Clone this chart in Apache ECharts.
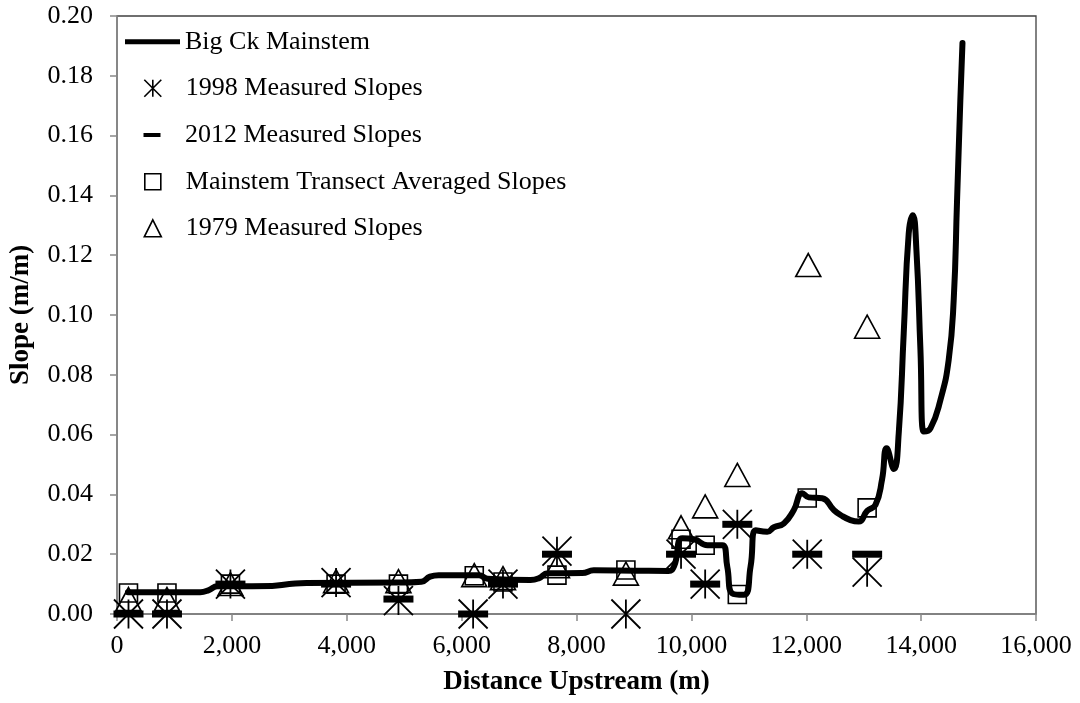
<!DOCTYPE html>
<html>
<head>
<meta charset="utf-8">
<script src="https://cdn.jsdelivr.net/npm/echarts@6/dist/echarts.min.js"></script>
<style>
html,body{margin:0;padding:0;background:#fff;}
#chart{width:1080px;height:703px;}
</style>
</head>
<body>
<div id="chart"></div>
<script>
// ---- data ----
const mainstemX = [190,1450,1600,1750,2000,2700,3000,3300,4900,5300,5450,5600,6300,6450,7200,7350,7500,8100,8300,9000,9600,9700,9843,10045,10280,10540,10625,10710,10915,11030,11120,11320,11437,11610,11784,11930,12045,12278,12480,12597,12770,12915,13060,13205,13320,13400,13525,13610,13697,13784,13855,13918,13988,14045,14162,14336,14480,14567,14625,14683,14720];
const mainstemY = [0.0073,0.0073,0.0080,0.0093,0.0093,0.0094,0.0100,0.0104,0.0105,0.0108,0.0125,0.0130,0.0130,0.0118,0.0114,0.0120,0.0136,0.0137,0.0146,0.0145,0.0144,0.0160,0.0253,0.0250,0.0230,0.0230,0.0158,0.0069,0.0064,0.0158,0.0280,0.0275,0.0290,0.0303,0.0348,0.0404,0.0390,0.0387,0.0348,0.0331,0.0314,0.0309,0.0345,0.0365,0.0450,0.0554,0.0485,0.0604,0.0939,0.1273,0.1334,0.1217,0.0883,0.0610,0.0621,0.0716,0.0850,0.1050,0.1380,0.1720,0.1910];

const m1998X = [200,870,1975,3814,4900,6200,6720,7660,8860,9820,10240,10800,12017,13060];
const m1998Y = [0.000,0.000,0.010,0.0105,0.0045,0.000,0.010,0.021,0.000,0.020,0.010,0.030,0.020,0.014];

const m2012X = [200,870,1975,3814,4900,6200,6720,7660,9820,10240,10800,12017,13060];
const m2012Y = [0.000,0.000,0.010,0.010,0.005,0.000,0.010,0.020,0.020,0.010,0.030,0.020,0.020];

const transectX = [200,870,1975,3814,4900,6220,6720,7660,8860,9820,10240,10800,12017,13060];
const transectY = [0.007,0.007,0.010,0.010,0.010,0.0128,0.0107,0.013,0.0147,0.025,0.023,0.0065,0.0388,0.0355];

const m1979X = [200,870,1975,3814,4900,6220,6720,7660,8860,9820,10240,10800,12035,13060];
const m1979Y = [0.005,0.005,0.010,0.011,0.011,0.013,0.012,0.016,0.0135,0.029,0.036,0.0465,0.1167,0.0961];

const xTickLabels = ['0','2,000','4,000','6,000','8,000','10,000','12,000','14,000','16,000'];
const yTickLabels = ['0.00','0.02','0.04','0.06','0.08','0.10','0.12','0.14','0.16','0.18','0.20'];

const seriesNames = ['Big Ck Mainstem','1998 Measured Slopes','2012 Measured Slopes','Mainstem Transect Averaged Slopes','1979 Measured Slopes'];

// ---- build ----
const zip = (xs, ys) => xs.map((x, i) => [x, ys[i]]);
const FONT = '"Liberation Serif","Times New Roman",serif';
const ASTER = 'path://M0,0L10,10M10,0L0,10M5,0L5,10';
const TRI = 'path://M5,0L10,10L0,10Z';
const SQ = 'path://M0,0L10,0L10,10L0,10Z';
const DASH = 'path://M0,0L17,0L17,4L0,4Z';
const hollow = {color:'rgba(0,0,0,0)', borderColor:'#000', borderWidth:1.6, opacity:1};
const legendText = {fontFamily: FONT, fontSize: 26, color:'#000', lineHeight: 26};

function mkLegend(name, icon, w, h, left, centerY, itemStyle) {
  return {
    show: true, orient:'vertical', left: left, top: centerY - 13, padding: 0,
    itemWidth: w, itemHeight: h, selectedMode: false, symbolKeepAspect: true,
    textStyle: legendText,
    data: [{name: name, icon: icon, itemStyle: itemStyle}]
  };
}

const chart = echarts.init(document.getElementById('chart'), null, {renderer:'canvas'});
chart.setOption({
  backgroundColor:'#fff',
  animation:false,
  grid:{left:116, right:44, top:16, bottom:89, show:true, borderColor:'#404040', borderWidth:1.3, containLabel:false},
  legend:[
    mkLegend(seriesNames[0], 'rect', 55, 5, 125, 41.7, {color:'#000', borderWidth:0, opacity:1}),
    mkLegend(seriesNames[1], ASTER, 56, 17, 143.5, 88.3, hollow),
    mkLegend(seriesNames[2], DASH, 56, 4, 143.5, 135, {color:'#000', borderWidth:0, opacity:1}),
    mkLegend(seriesNames[3], SQ, 56, 16, 144, 181.7, hollow),
    mkLegend(seriesNames[4], TRI, 56, 17, 143.5, 228.3, hollow)
  ],
  xAxis:{
    type:'value', min:0, max:16000, interval:2000,
    name:'Distance Upstream (m)', nameLocation:'middle', nameGap:55,
    nameTextStyle:{fontFamily:FONT, fontSize:27, fontWeight:'bold', color:'#000'},
    axisLine:{show:true, lineStyle:{color:'#898989', width:1.5}},
    axisTick:{show:true, inside:false, length:7, lineStyle:{color:'#898989', width:1.5}},
    splitLine:{show:false},
    axisLabel:{margin:19, fontFamily:FONT, fontSize:26, color:'#000',
      formatter:(v)=> xTickLabels[Math.round(v/2000)]}
  },
  yAxis:{
    type:'value', min:0, max:0.2, interval:0.02,
    name:'Slope (m/m)', nameLocation:'middle', nameGap:82, nameRotate:90,
    nameTextStyle:{fontFamily:FONT, fontSize:27, fontWeight:'bold', color:'#000'},
    axisLine:{show:true, lineStyle:{color:'#898989', width:1.5}},
    axisTick:{show:true, inside:false, length:7, lineStyle:{color:'#898989', width:1.5}},
    splitLine:{show:false},
    axisLabel:{margin:24, fontFamily:FONT, fontSize:26, color:'#000',
      formatter:(v)=> yTickLabels[Math.round(v/0.02)]}
  },
  series:[
    {name:seriesNames[1], type:'scatter', data:zip(m1998X,m1998Y), symbol:ASTER, symbolSize:29,
      itemStyle:{color:'rgba(0,0,0,0)', borderColor:'#000', borderWidth:1.8, opacity:1}, z:3},
    {name:seriesNames[2], type:'scatter', data:zip(m2012X,m2012Y), symbol:'rect', symbolSize:[30,7],
      itemStyle:{color:'#000', opacity:1}, z:3},
    {name:seriesNames[3], type:'scatter', data:zip(transectX,transectY), symbol:'rect', symbolSize:18,
      itemStyle:{color:'rgba(0,0,0,0)', borderColor:'#000', borderWidth:1.6, opacity:1}, z:3},
    {name:seriesNames[4], type:'scatter', data:zip(m1979X,m1979Y), symbol:'triangle', symbolSize:[25,23],
      itemStyle:{color:'rgba(0,0,0,0)', borderColor:'#000', borderWidth:1.6, opacity:1}, z:3},
    {name:seriesNames[0], type:'line', data:zip(mainstemX,mainstemY), showSymbol:false, symbol:'none',
      smooth:0.5,
      lineStyle:{color:'#000', width:6, cap:'round', join:'round'}, itemStyle:{color:'#000'}, z:4}
  ]
});
</script>
</body>
</html>
